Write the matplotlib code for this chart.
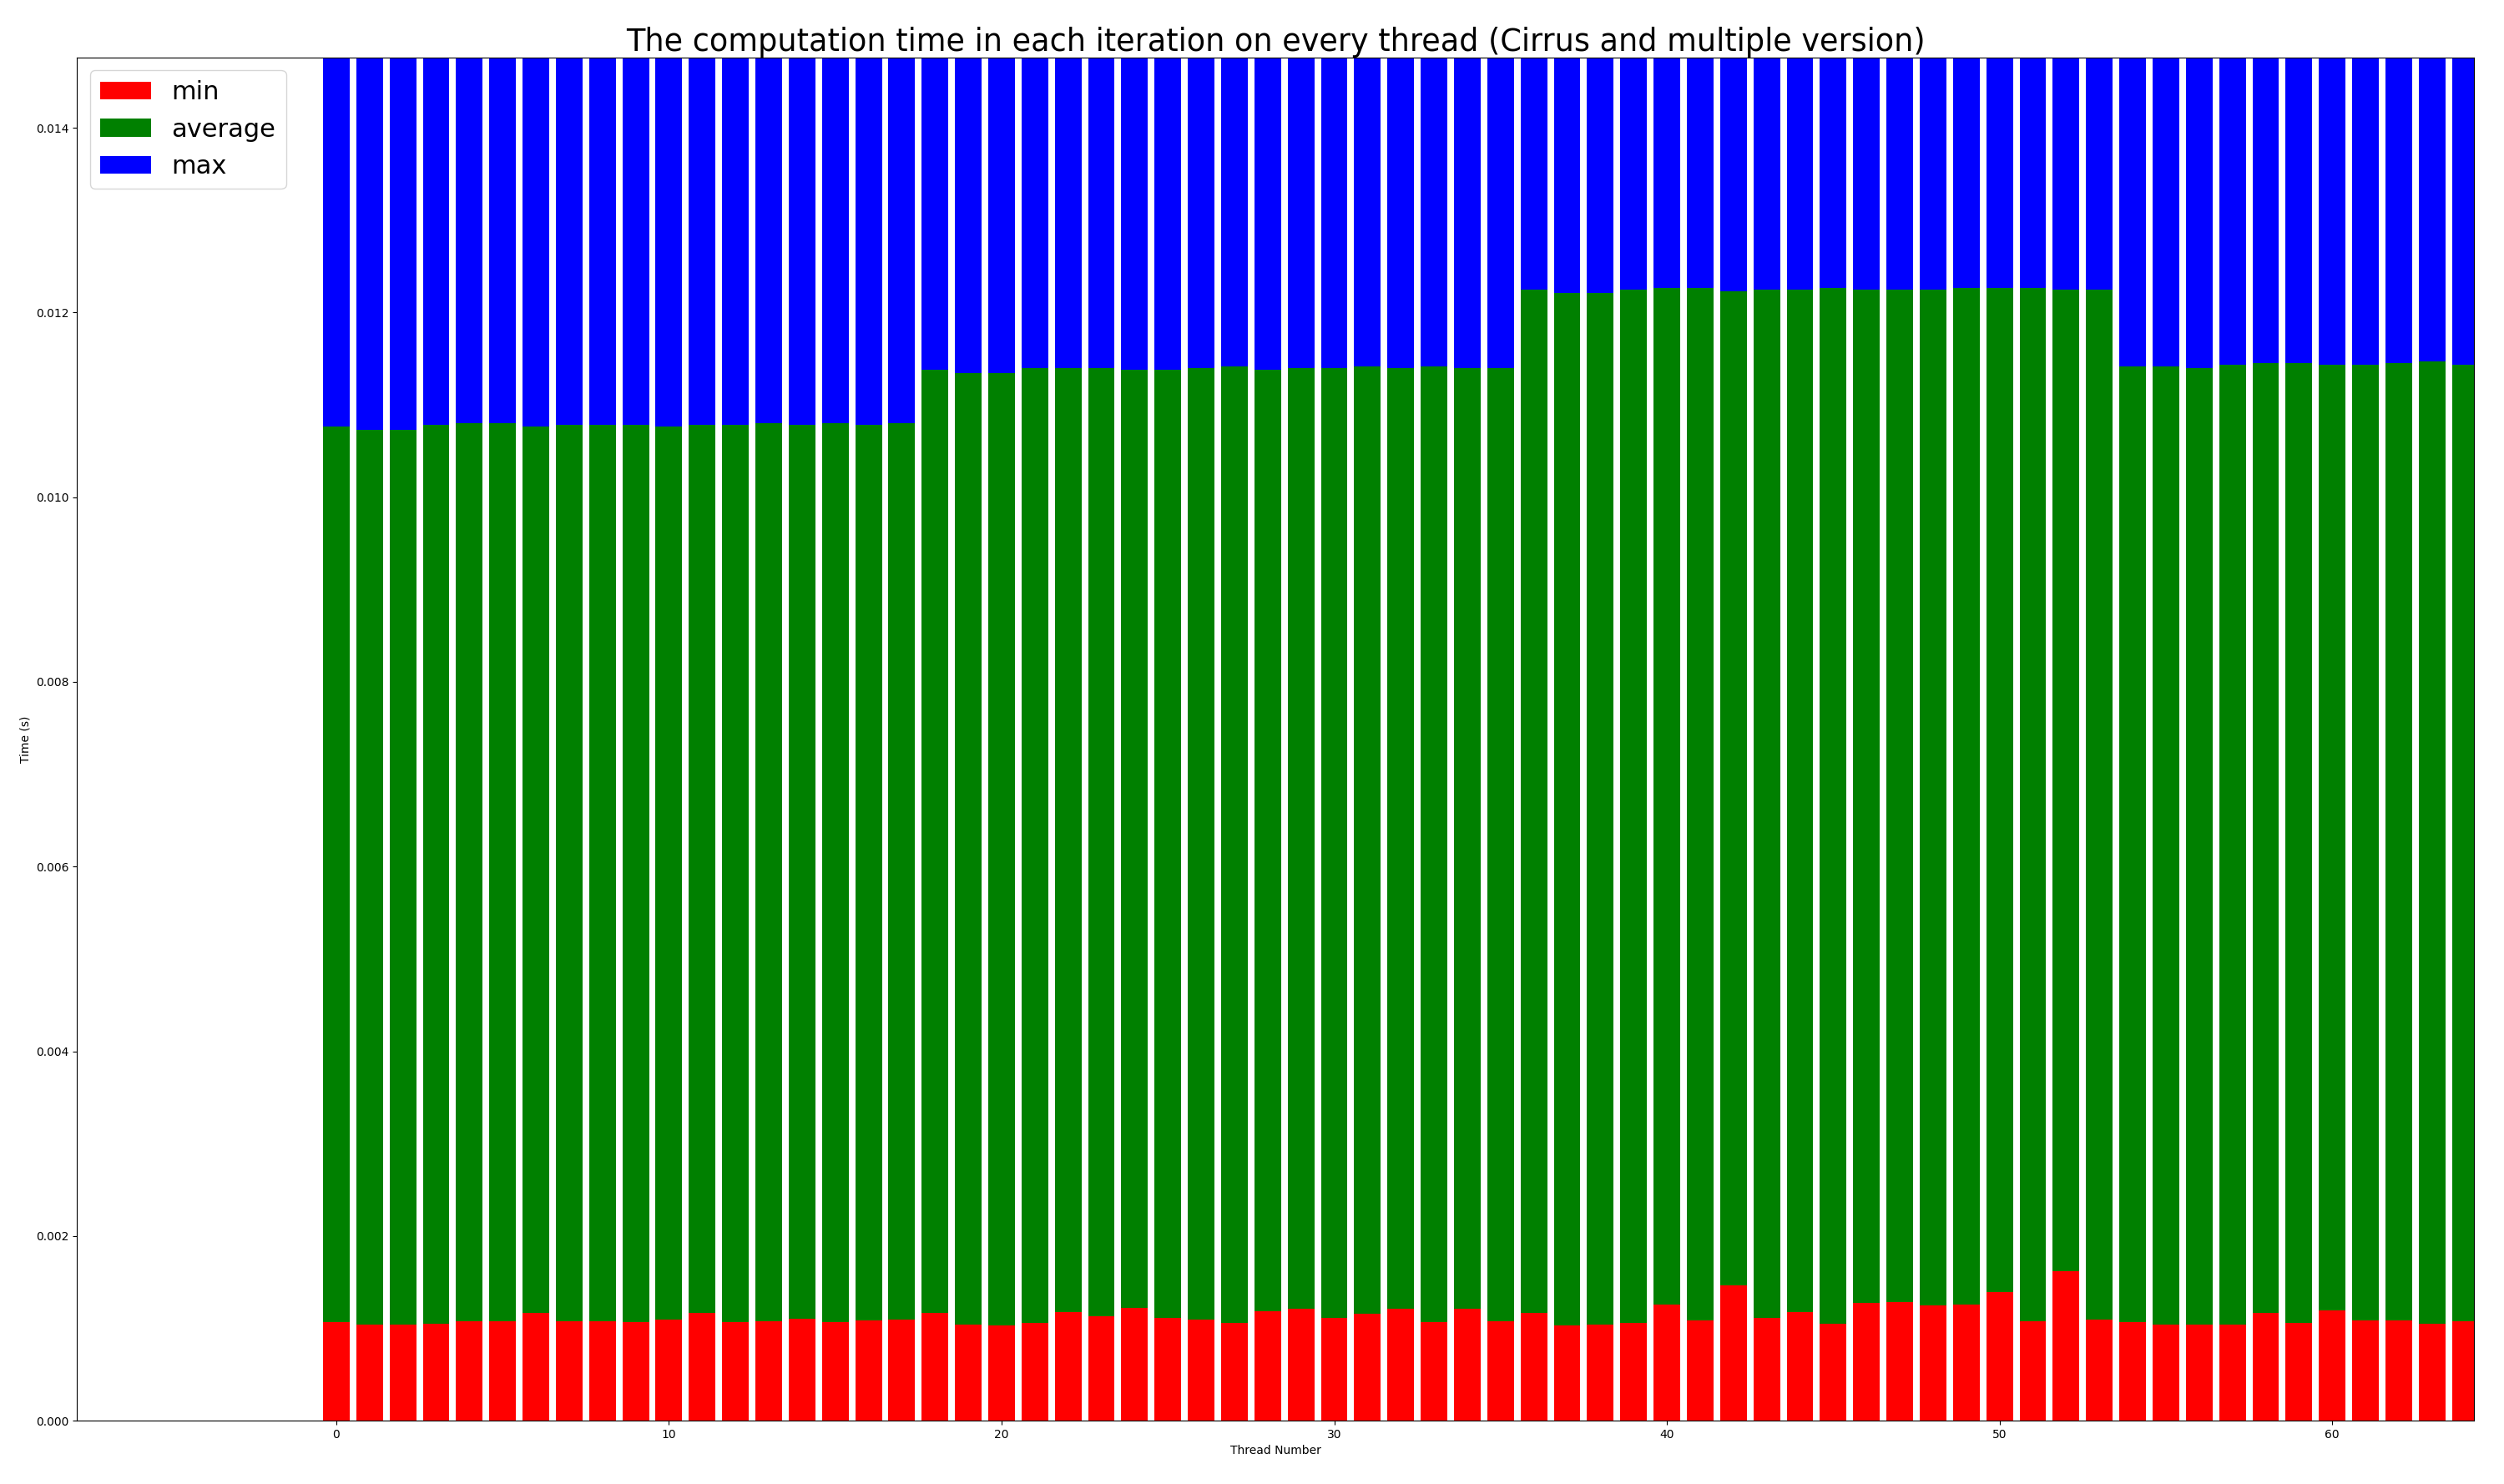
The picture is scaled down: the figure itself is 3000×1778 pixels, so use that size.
import matplotlib
matplotlib.use('Agg')
import matplotlib.pyplot as plt
import numpy as np

threads = list(range(65))

min_time = [1.070, 1.040, 1.040, 1.052, 1.076, 1.076, 1.166, 1.076, 1.076, 1.070,
            1.094, 1.166, 1.070, 1.076, 1.106, 1.070, 1.088, 1.094, 1.166, 1.040,
            1.034, 1.058, 1.178, 1.130, 1.221, 1.112, 1.094, 1.058, 1.184, 1.215,
            1.112, 1.160, 1.215, 1.070, 1.215, 1.076, 1.166, 1.034, 1.040, 1.058,
            1.257, 1.088, 1.468, 1.112, 1.178, 1.052, 1.275, 1.287, 1.251, 1.257,
            1.395, 1.076, 1.618, 1.094, 1.070, 1.040, 1.040, 1.040, 1.166, 1.058,
            1.196, 1.088, 1.088, 1.052, 1.076]

avg_time = [10.762, 10.732, 10.732, 10.787, 10.799, 10.799, 10.769, 10.787, 10.780, 10.787,
            10.769, 10.787, 10.780, 10.799, 10.787, 10.799, 10.787, 10.799, 11.383, 11.347,
            11.347, 11.395, 11.401, 11.395, 11.383, 11.383, 11.395, 11.413, 11.383, 11.401,
            11.401, 11.419, 11.401, 11.413, 11.395, 11.401, 12.245, 12.209, 12.209, 12.251,
            12.269, 12.263, 12.233, 12.245, 12.251, 12.263, 12.245, 12.251, 12.251, 12.269,
            12.263, 12.263, 12.251, 12.251, 11.419, 11.413, 11.401, 11.437, 11.455, 11.455,
            11.431, 11.437, 11.449, 11.468, 11.437]

# max values run off the top of the axis in the original
max_time = [16.0] * 65

min_time = np.array(min_time) / 1000
avg_time = np.array(avg_time) / 1000
max_time = np.array(max_time) / 1000

fig, ax = plt.subplots(figsize=(30, 17.78), dpi=100)
ax.bar(threads, max_time, color='b', label='max')
ax.bar(threads, avg_time, color='g', label='average')
ax.bar(threads, min_time, color='r', label='min')

ax.set_xlim(-7.79, 64.26)
ax.set_ylim(0, 0.01476)
ax.set_xlabel('Thread Number')
ax.set_ylabel('Time (s)')
ax.set_title('The computation time in each iteration on every thread (Cirrus and multiple version)', fontsize=26.4)

handles, labels = ax.get_legend_handles_labels()
ax.legend(handles[::-1], labels[::-1], loc='upper left', fontsize=22)

plt.subplots_adjust(left=0.0308, right=0.988, bottom=0.0427, top=0.9612)
plt.savefig('out.png')
